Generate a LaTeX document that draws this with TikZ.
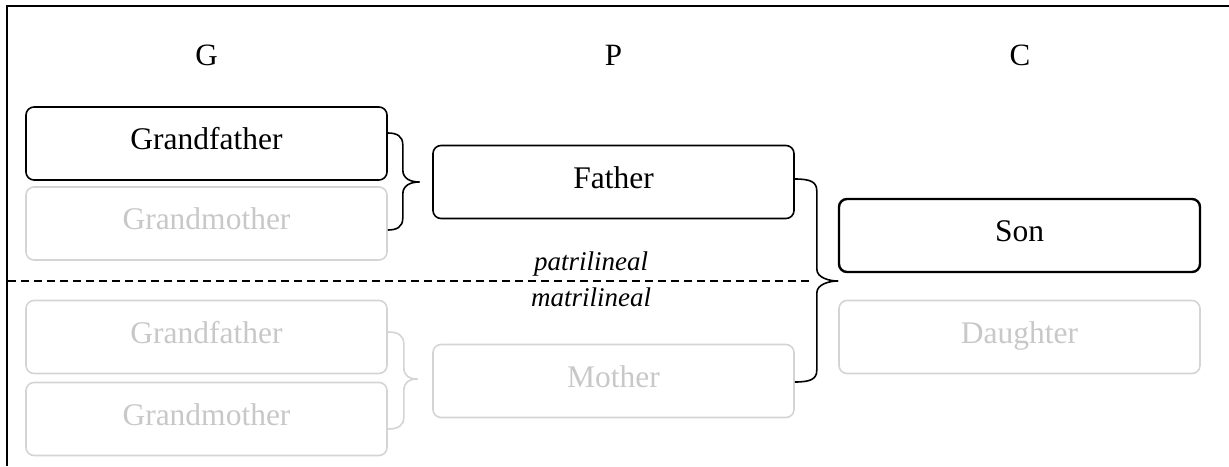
\documentclass[tikz,border=0pt]{standalone}
\usepackage{fontspec}
\setmainfont{Liberation Serif}
\usetikzlibrary{calc}
\definecolor{lite}{RGB}{200,200,200}
\definecolor{liteline}{RGB}{212,212,212}
% #1 start, #2 end, #3 tip, #4 offset of the vertical stroke, #5 style
\newcommand\famBrace[5]{%
  \draw[#5] let \p1=(#1), \p2=(#2), \p3=(#3) in
    (\p1) .. controls (\x1+#4-6pt,\y1) and (\x1+#4,\y1-3pt) .. (\x1+#4,\y1-12pt)
    -- (\x1+#4,\y3+12pt) .. controls (\x1+#4,\y3+3pt) and (\x3-8pt,\y3) .. (\p3)
    .. controls (\x3-8pt,\y3) and (\x1+#4,\y3-3pt) .. (\x1+#4,\y3-12pt)
    -- (\x1+#4,\y2+12pt) .. controls (\x1+#4,\y2+3pt) and (\x1+#4-6pt,\y2) .. (\p2);}
\tikzset{
  box/.style={draw, rounded corners=8pt, minimum width=361pt, minimum height=73pt,
    line width=1.6pt, inner sep=0pt, text height=21pt, text depth=8.5pt,
    font=\fontsize{31.5}{36}\selectfont},
  dim/.style={box, draw=liteline, text=lite},
  strong/.style={box, line width=2.4pt},
  hdr/.style={anchor=base, inner sep=0pt, font=\fontsize{31}{36}\selectfont},
  lbl/.style={anchor=base, inner sep=0pt, font=\fontsize{27}{30}\selectfont\itshape},
  divider/.style={line width=1.5pt, dash pattern=on 8pt off 5pt},
  brk/.style={line width=1.6pt, line join=round},
  brkdim/.style={brk, draw=liteline},
  frame/.style={line width=2pt}
}
\begin{document}
\begin{tikzpicture}[x=1pt,y=-1pt]
\useasboundingbox (0,0) rectangle (1229,466);
\draw[frame] (1229,6) -- (7,6) -- (7,466);

% headers
\node[hdr] (hG) at (206.5,65) {G};
\node[hdr] (hP) at (613.5,65) {P};
\node[hdr] (hC) at (1020,65) {C};

% boxes
\node[box] (gf1) at (206.5,143.5) {Grandfather};
\node[dim] (gm1) at (206.5,223.5) {Grandmother};
\node[box] (father) at (613.5,182) {Father};
\node[strong] (son) at (1019.5,235.5) {Son};
\node[dim] (daughter) at (1019.5,337) {Daughter};
\node[dim] (gf2) at (206.5,337) {Grandfather};
\node[dim] (gm2) at (206.5,419) {Grandmother};
\node[dim] (mother) at (613.5,381) {Mother};

% divider
\coordinate (dl) at (8,281);
\coordinate (dr) at (810,281);
\draw[divider] (dl) -- (dr);
\node[lbl] (pat) at (591,270) {patrilineal};
\node[lbl] (mat) at (591,306) {matrilineal};

% braces
\coordinate (b1a) at ($(gf1.east)+(0,-10.5)$);
\coordinate (b1b) at ($(gm1.east)+(0,6.5)$);
\coordinate (b1t) at ($(father.west)+(-13,0)$);
\famBrace{b1a}{b1b}{b1t}{15pt}{brk}

\coordinate (b2a) at ($(father.east)+(0,-3)$);
\coordinate (b2b) at ($(mother.east)+(0,1)$);
\coordinate (b2t) at (son.west |- dr);
\famBrace{b2a}{b2b}{b2t}{22pt}{brk}

\coordinate (b3a) at ($(gf2.east)+(0,-5)$);
\coordinate (b3b) at ($(gm2.east)+(0,10)$);
\coordinate (b3t) at ($(mother.west)+(-15,-2)$);
\famBrace{b3a}{b3b}{b3t}{16pt}{brkdim}
\end{tikzpicture}
\end{document}
